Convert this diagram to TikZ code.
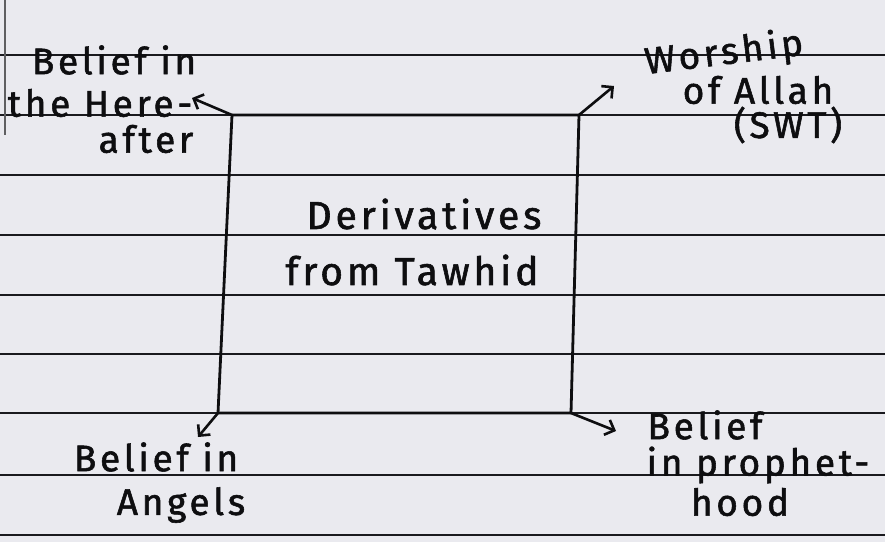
\documentclass[tikz,border=0pt]{standalone}
\usepackage{fontspec}
\setmainfont{Fira Sans}
\newfontfamily\inkfont{Fira Sans}[FakeBold=1.5, LetterSpace=10]
\usetikzlibrary{arrows.meta}
\definecolor{paper}{HTML}{EAEAEF}
\definecolor{rule}{HTML}{1A1A1E}
\definecolor{ink}{HTML}{0E0E10}
\tikzset{
  ruled/.style={draw=rule, line width=1.8pt},
  boxline/.style={draw=ink, line width=2.8pt, line join=round},
  lbl/.style={text=ink, font=\inkfont\fontsize{37}{36}\selectfont, inner sep=0pt, align=center},
  big/.style={text=ink, font=\inkfont\fontsize{39}{38}\selectfont, inner sep=0pt, align=center},
  arr/.style={draw=ink, line width=2.6pt, line cap=round, -{Straight Barb[length=8pt,width=16pt,line width=2.6pt]}}
}
\begin{document}
\begin{tikzpicture}[x=1pt,y=-1pt]
\useasboundingbox (0,0) rectangle (885,542);
\fill[paper] (0,0) rectangle (885,542);
% ruled lines
\foreach \yy in {55,115,175,235,295,354,413,475,535}
  \draw[ruled] (0,\yy) -- (885,\yy);
\draw[draw=rule!70, line width=1.6pt] (5,0) -- (5,135);
% box corners
\coordinate (tl) at (232,115);
\coordinate (tr) at (579,115);
\coordinate (br) at (571,413);
\coordinate (bl) at (218,413);
\draw[boxline] (tl) -- (tr) -- (br) -- (bl) -- cycle;
% centre text
\node[big] (d1) at (424,214) {Derivatives};
\node[big] (d2) at (412,270) {from Tawhid};
% top-left label
\node[lbl] (h1) at (114,60) {Belief in};
\node[lbl] (h2) at (100,103) {the Here-};
\node[lbl] (h3) at (146,139) {after};
% top-right label
\node[lbl, rotate=7] (w1) at (724,54) {Worship};
\node[lbl] (w2) at (758,90) {of Allah};
\node[lbl] (w3) at (788,125) {(SWT)};
% bottom-left label
\node[lbl] (a1) at (156,457) {Belief in};
\node[lbl] (a2) at (181,505) {Angels};
% bottom-right label
\node[lbl] (p1) at (705,425) {Belief};
\node[lbl] (p2) at (758,465) {in prophet-};
\node[lbl] (p3) at (740,502) {hood};
% arrow end points
\coordinate (etl) at (192,98);
\coordinate (etr) at (614,86);
\coordinate (ebl) at (198,437);
\coordinate (ebr) at (616,431);
\draw[arr] (tl) -- (etl);
\draw[arr] (tr) -- (etr);
\draw[arr] (bl) -- (ebl);
\draw[arr] (br) -- (ebr);
\end{tikzpicture}
\end{document}
